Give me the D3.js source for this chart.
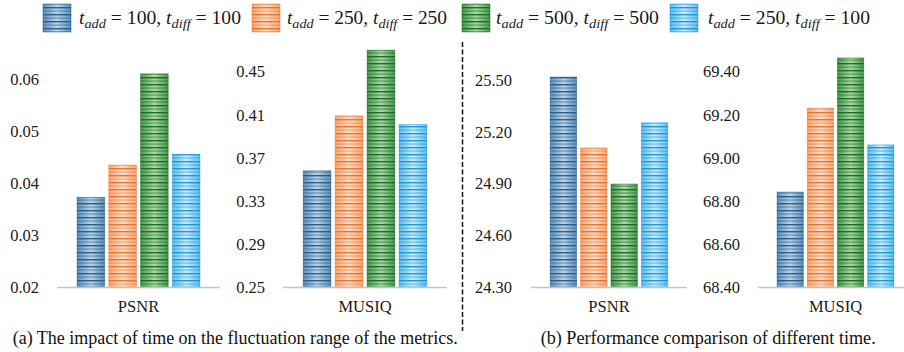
<!DOCTYPE html>
<html><head><meta charset="utf-8">
<script src="https://cdn.jsdelivr.net/npm/d3@7"></script>
<style>
body{margin:0;background:#fff}svg{display:block}
svg text{font-family:"Liberation Serif","Times New Roman","DejaVu Serif",serif !important;}
</style>
</head><body><svg id="c" width="904" height="352"></svg>
<script>
// ---- data ----
const seriesIds = ["s100_100", "s250_250", "s500_500", "s250_100"];
const tAdd = ["100", "250", "500", "250"];
const tDiff = ["100", "250", "500", "100"];
const panelCategories = ["PSNR", "MUSIQ", "PSNR", "MUSIQ"];
const fluctPSNR = [0.0373, 0.0435, 0.0611, 0.0456];
const fluctMUSIQ = [0.358, 0.409, 0.470, 0.401];
const perfPSNR = [25.517, 25.106, 24.897, 25.252];
const perfMUSIQ = [68.841, 69.231, 69.464, 69.060];
const ticksFluctPSNR = [0.02, 0.03, 0.04, 0.05, 0.06];
const ticksFluctMUSIQ = [0.25, 0.29, 0.33, 0.37, 0.41, 0.45];
const ticksPerfPSNR = [24.30, 24.60, 24.90, 25.20, 25.50];
const ticksPerfMUSIQ = [68.40, 68.60, 68.80, 69.00, 69.20, 69.40];
const captionA = "(a) The impact of time on the fluctuation range of the metrics.";
const captionB = "(b) Performance comparison of different time.";

// ---- style ----
const palette = [
  {base:"#5f90b8", light:"#bcd3e6", line:"#1f5a8a"},
  {base:"#f3a877", light:"#fde0cc", line:"#ea6f26"},
  {base:"#4a9850", light:"#acd9a8", line:"#146a1d"},
  {base:"#5fbdec", light:"#cdebfb", line:"#1695d6"}
];
const svg = d3.select("#c");
const defs = svg.append("defs");
palette.forEach((p, i) => {
  const g = defs.append("linearGradient").attr("id", "grad" + i)
    .attr("x1", "0").attr("x2", "1").attr("y1", "0").attr("y2", "0");
  g.append("stop").attr("offset", "0%").attr("stop-color", p.base);
  g.append("stop").attr("offset", "50%").attr("stop-color", p.light);
  g.append("stop").attr("offset", "100%").attr("stop-color", p.base);
  const pt = defs.append("pattern").attr("id", "str" + i)
    .attr("patternUnits", "userSpaceOnUse").attr("width", 10).attr("height", 7);
  pt.append("rect").attr("x", 0).attr("y", 0).attr("width", 10).attr("height", 1.4)
    .attr("fill", p.line).attr("opacity", 0.95);
  pt.append("rect").attr("x", 0).attr("y", 3.5).attr("width", 10).attr("height", 1.1)
    .attr("fill", p.line).attr("opacity", 0.55);
});

const panels = [
  {vals: fluctPSNR, ticks: ticksFluctPSNR, fmt: d3.format(".2f"), x0: 57, x1: 220, yDom: [0.02, 0.06], yR: [287, 79.5], labelX: 39},
  {vals: fluctMUSIQ, ticks: ticksFluctMUSIQ, fmt: d3.format(".2f"), x0: 283, x1: 447, yDom: [0.25, 0.45], yR: [287, 71.7], labelX: 265},
  {vals: perfPSNR, ticks: ticksPerfPSNR, fmt: d3.format(".2f"), x0: 531, x1: 687, yDom: [24.3, 25.5], yR: [287, 80], labelX: 512},
  {vals: perfMUSIQ, ticks: ticksPerfMUSIQ, fmt: d3.format(".2f"), x0: 758, x1: 913, yDom: [68.4, 69.4], yR: [287, 71.7], labelX: 740}
];

panels.forEach((p, pi) => {
  const g = svg.append("g");
  const y = d3.scaleLinear().domain(p.yDom).range(p.yR);
  const xc = d3.scaleBand().domain([panelCategories[pi]]).range([p.x0, p.x1]).paddingOuter(0.163);
  const xs = d3.scaleBand().domain(seriesIds)
    .range([xc(panelCategories[pi]), xc(panelCategories[pi]) + xc.bandwidth()]).paddingInner(0.13);

  const ax = d3.axisLeft(y).tickValues(p.ticks).tickFormat(p.fmt).tickSize(0).tickPadding(0);
  const axg = g.append("g").attr("transform", `translate(${p.labelX},0)`).call(ax);
  axg.attr("font-family", null).attr("font-size", null);
  axg.select(".domain").remove();
  axg.selectAll("text").attr("font-size", 16.5).attr("fill", "#1a1a1a");

  const data = p.vals.map((v, i) => ({id: seriesIds[i], v, i}));
  const bars = g.selectAll("g.bar").data(data).enter().append("g");
  bars.append("rect")
    .attr("x", d => xs(d.id)).attr("width", xs.bandwidth())
    .attr("y", d => y(d.v)).attr("height", d => y(p.yDom[0]) - y(d.v))
    .attr("fill", d => `url(#grad${d.i})`);
  bars.append("rect")
    .attr("x", d => xs(d.id)).attr("width", xs.bandwidth())
    .attr("y", d => y(d.v)).attr("height", d => y(p.yDom[0]) - y(d.v))
    .attr("fill", d => `url(#str${d.i})`)
    .attr("stroke", d => palette[d.i].line).attr("stroke-opacity", 0.5).attr("stroke-width", 0.8);

  g.append("line").attr("x1", p.x0).attr("x2", p.x1)
    .attr("y1", y(p.yDom[0]) + 0.5).attr("y2", y(p.yDom[0]) + 0.5)
    .attr("stroke", "#c4c4c4").attr("stroke-width", 1.6);

  g.append("text").attr("x", xc(panelCategories[pi]) + xc.bandwidth() / 2).attr("y", 311.5)
    .attr("text-anchor", "middle").attr("font-size", 16.5)
    .attr("fill", "#1a1a1a").text(panelCategories[pi]);
});

svg.append("line").attr("x1", 462.5).attr("x2", 462.5).attr("y1", 42).attr("y2", 331)
  .attr("stroke", "#111").attr("stroke-width", 1.5).attr("stroke-dasharray", "5,2.5");

const legendPos = [
  {rx: 43, tx: 79, tw: 162},
  {rx: 252, tx: 287, tw: 160},
  {rx: 462, tx: 496, tw: 163},
  {rx: 670, tx: 708, tw: 162}
];
seriesIds.forEach((id, i) => {
  const lp = legendPos[i];
  svg.append("rect").attr("x", lp.rx).attr("y", 4).attr("width", 28).attr("height", 28)
    .attr("fill", `url(#grad${i})`);
  svg.append("rect").attr("x", lp.rx).attr("y", 4).attr("width", 28).attr("height", 28)
    .attr("fill", `url(#str${i})`).attr("stroke", palette[i].line).attr("stroke-opacity", 0.6).attr("stroke-width", 0.8);
  const t = svg.append("text").attr("x", lp.tx).attr("y", 23.5)
    .attr("font-size", 18.5).attr("fill", "#1a1a1a")
    .attr("textLength", lp.tw).attr("lengthAdjust", "spacingAndGlyphs");
  t.append("tspan").attr("font-style", "italic").text("t");
  t.append("tspan").attr("font-style", "italic").attr("font-size", 13.5).attr("dy", 4.5).text("add");
  t.append("tspan").attr("dy", -4.5).text(" = " + tAdd[i] + ", ");
  t.append("tspan").attr("font-style", "italic").text("t");
  t.append("tspan").attr("font-style", "italic").attr("font-size", 13.5).attr("dy", 4.5).text("diff");
  t.append("tspan").attr("dy", -4.5).text(" = " + tDiff[i]);
});

svg.append("text").attr("x", 12.7).attr("y", 343.5).attr("font-size", 19.5)
  .attr("fill", "#111").attr("textLength", 445).attr("lengthAdjust", "spacingAndGlyphs").text(captionA);
svg.append("text").attr("x", 540.7).attr("y", 343.5).attr("font-size", 19.5)
  .attr("fill", "#111").attr("textLength", 335).attr("lengthAdjust", "spacingAndGlyphs").text(captionB);
</script></body></html>
